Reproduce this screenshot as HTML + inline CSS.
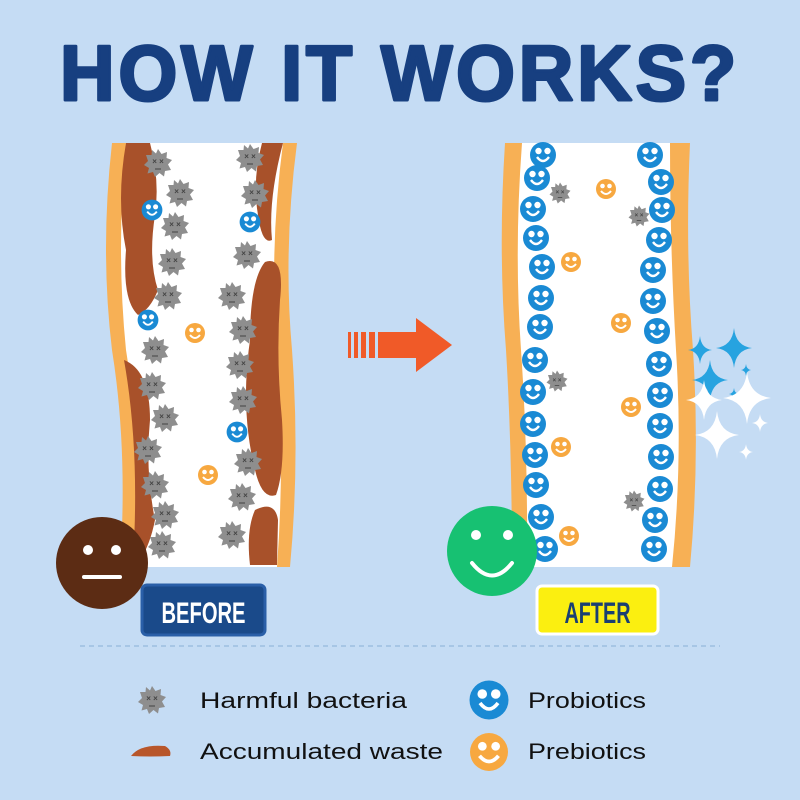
<!DOCTYPE html>
<html><head><meta charset="utf-8"><style>
html,body{margin:0;padding:0;background:#c5dcf4;width:800px;height:800px;overflow:hidden}
</style></head><body>
<svg width="800" height="800" viewBox="0 0 800 800" xmlns="http://www.w3.org/2000/svg">
<defs>
<g id="bac"><polygon points="0,-14 3.5,-9 9,-11 8.5,-5 14,-3 10,1.5 13,7 7,8 6,13.5 1.5,10 -3,14 -5,9 -10.5,10.5 -9,5 -14,2 -10,-2 -12,-8 -6.5,-8 -6,-13 -2,-9.5" fill="#8e8e8e"/><text x="0" y="1" font-family="Liberation Sans,sans-serif" font-size="8" font-weight="bold" fill="#444" text-anchor="middle">× ×</text><line x1="-3" y1="6" x2="3" y2="6" stroke="#555" stroke-width="1.3"/></g>
<g id="pro"><circle r="13" fill="#1a8ad4"/><circle cx="-4.5" cy="-4" r="3.2" fill="#fff"/><circle cx="4.5" cy="-4" r="3.2" fill="#fff"/><path d="M-6,2 Q0,10 6,2" stroke="#fff" stroke-width="2.4" fill="none"/></g>
<g id="pre"><circle r="10" fill="#f7a840"/><circle cx="-3.5" cy="-3" r="2.3" fill="#fff"/><circle cx="3.5" cy="-3" r="2.3" fill="#fff"/><path d="M-5,2 Q0,8 5,2" stroke="#fff" stroke-width="2" fill="none"/></g>
<g id="spk"><path d="M0,-1 Q0.1,-0.1 1,0 Q0.1,0.1 0,1 Q-0.1,0.1 -1,0 Q-0.1,-0.1 0,-1Z"/></g>
</defs>

<text x="400" y="100" font-family="Liberation Sans,sans-serif" font-weight="bold" font-size="78" fill="#173f80" stroke="#173f80" stroke-width="3" stroke-linejoin="round" text-anchor="middle" letter-spacing="4" textLength="680" lengthAdjust="spacingAndGlyphs">HOW IT WORKS?</text>

<!-- LEFT TUBE -->
<path d="M112,143 L297,143 Q283,250 292,350 Q300,460 290,567 L120,567 Q128,450 112,350 Q100,250 112,143Z" fill="#f7b055"/>
<path d="M126,143 L283,143 Q269,250 277,350 Q285,460 277,567 L133,567 Q142,450 126,350 Q116,250 126,143Z" fill="#fff"/>
<path d="M126,143 L150,143 Q160,180 155,215 Q148,260 158,290 Q150,310 138,315 Q122,300 126,250 Q116,200 126,143Z" fill="#a8512a"/>
<path d="M124,360 Q150,370 150,420 Q145,470 155,520 Q150,545 140,560 L133,562 Q140,450 124,360Z" fill="#a8512a"/>
<path d="M262,143 L283,143 Q268,200 272,240 Q262,245 258,215 Q252,180 262,143Z" fill="#a8512a"/>
<path d="M265,262 Q285,255 280,300 Q276,360 282,420 Q285,470 276,495 Q262,500 255,470 Q240,410 250,340 Q250,280 265,262Z" fill="#a8512a"/>
<path d="M255,510 Q275,500 278,520 L277,565 L250,565 Q246,530 255,510Z" fill="#a8512a"/>
<use href="#bac" x="158" y="163"/><use href="#bac" x="180" y="193"/><use href="#bac" x="175" y="226"/><use href="#bac" x="172" y="262"/><use href="#bac" x="168" y="296"/><use href="#bac" x="155" y="350"/><use href="#bac" x="152" y="386"/><use href="#bac" x="165" y="418"/><use href="#bac" x="148" y="450"/><use href="#bac" x="155" y="485"/><use href="#bac" x="165" y="515"/><use href="#bac" x="162" y="545"/>
<use href="#bac" x="250" y="158"/><use href="#bac" x="255" y="194"/><use href="#bac" x="247" y="255"/><use href="#bac" x="232" y="296"/><use href="#bac" x="243" y="330"/><use href="#bac" x="240" y="365"/><use href="#bac" x="243" y="400"/><use href="#bac" x="248" y="462"/><use href="#bac" x="242" y="497"/><use href="#bac" x="232" y="535"/>
<g transform="translate(152,210) scale(0.8)"><use href="#pro"/></g>
<g transform="translate(250,222) scale(0.8)"><use href="#pro"/></g>
<g transform="translate(148,320) scale(0.8)"><use href="#pro"/></g>
<g transform="translate(237,432) scale(0.8)"><use href="#pro"/></g>
<use href="#pre" x="195" y="333"/><use href="#pre" x="208" y="475"/>

<!-- brown face -->
<circle cx="102" cy="563" r="46" fill="#5c2c14"/>
<circle cx="88" cy="550" r="5" fill="#fff"/><circle cx="116" cy="550" r="5" fill="#fff"/>
<rect x="82" y="575" width="40" height="4" rx="2" fill="#fff"/>

<!-- BEFORE badge -->
<rect x="142" y="585" width="123" height="50" rx="5" fill="#1a4a8a" stroke="#2a5fa8" stroke-width="3"/>
<text x="203.5" y="623" font-family="Liberation Sans,sans-serif" font-weight="bold" font-size="30" fill="#fff" text-anchor="middle" textLength="84" lengthAdjust="spacingAndGlyphs">BEFORE</text>

<!-- ARROW -->
<rect x="348" y="332" width="3" height="26" fill="#f05a28"/><rect x="354" y="332" width="4" height="26" fill="#f05a28"/><rect x="361" y="332" width="5" height="26" fill="#f05a28"/><rect x="369" y="332" width="6" height="26" fill="#f05a28"/>
<polygon points="378,332 416,332 416,318 452,345 416,372 416,358 378,358" fill="#f05a28"/>

<!-- RIGHT TUBE -->
<path d="M505,143 L690,143 Q685,250 693,350 Q700,460 690,567 L512,567 Q512,450 506,350 Q498,250 505,143Z" fill="#f7b055"/>
<path d="M522,143 L670,143 Q670,250 676,350 Q683,460 672,567 L527,567 Q528,450 521,350 Q514,250 522,143Z" fill="#fff"/>
<use href="#pro" x="543" y="155"/><use href="#pro" x="537" y="178"/><use href="#pro" x="533" y="209"/><use href="#pro" x="536" y="238"/><use href="#pro" x="542" y="267"/><use href="#pro" x="541" y="298"/><use href="#pro" x="540" y="327"/><use href="#pro" x="535" y="360"/><use href="#pro" x="533" y="392"/><use href="#pro" x="533" y="424"/><use href="#pro" x="535" y="455"/><use href="#pro" x="536" y="485"/><use href="#pro" x="541" y="517"/><use href="#pro" x="545" y="549"/>
<use href="#pro" x="650" y="155"/><use href="#pro" x="661" y="182"/><use href="#pro" x="662" y="210"/><use href="#pro" x="659" y="240"/><use href="#pro" x="653" y="270"/><use href="#pro" x="653" y="301"/><use href="#pro" x="657" y="331"/><use href="#pro" x="659" y="364"/><use href="#pro" x="660" y="395"/><use href="#pro" x="660" y="426"/><use href="#pro" x="661" y="457"/><use href="#pro" x="660" y="489"/><use href="#pro" x="655" y="520"/><use href="#pro" x="654" y="549"/>
<use href="#pre" x="606" y="189"/><use href="#pre" x="571" y="262"/><use href="#pre" x="621" y="323"/><use href="#pre" x="631" y="407"/><use href="#pre" x="561" y="447"/><use href="#pre" x="569" y="536"/>
<g transform="translate(560,193) scale(0.75)"><use href="#bac"/></g>
<g transform="translate(639,216) scale(0.75)"><use href="#bac"/></g>
<g transform="translate(557,381) scale(0.75)"><use href="#bac"/></g>
<g transform="translate(634,501) scale(0.75)"><use href="#bac"/></g>

<!-- sparkles -->
<g fill="#27a3e0">
<g transform="translate(700,350) scale(12,14)"><use href="#spk"/></g>
<g transform="translate(734,348) scale(18,20)"><use href="#spk"/></g>
<g transform="translate(710,380) scale(18,20)"><use href="#spk"/></g>
<g transform="translate(746,370) scale(5,6)"><use href="#spk"/></g>
<g transform="translate(734,394) scale(5,6)"><use href="#spk"/></g>
</g>
<g fill="#fff">
<g transform="translate(704,400) scale(18,20)"><use href="#spk"/></g>
<g transform="translate(747,398) scale(24,26)"><use href="#spk"/></g>
<g transform="translate(717,435) scale(22,24)"><use href="#spk"/></g>
<g transform="translate(760,423) scale(8,9)"><use href="#spk"/></g>
<g transform="translate(746,452) scale(7,8)"><use href="#spk"/></g>
</g>

<!-- green face -->
<circle cx="492" cy="551" r="45" fill="#17c172"/>
<circle cx="476" cy="535" r="5" fill="#fff"/><circle cx="508" cy="535" r="5" fill="#fff"/>
<path d="M472,563 Q492,588 512,563" stroke="#fff" stroke-width="4" fill="none" stroke-linecap="round"/>

<!-- AFTER badge -->
<rect x="537" y="586" width="121" height="48" rx="5" fill="#fbef10" stroke="#fff" stroke-width="3"/>
<text x="597.5" y="623" font-family="Liberation Sans,sans-serif" font-weight="bold" font-size="30" fill="#1a3f72" text-anchor="middle" textLength="66" lengthAdjust="spacingAndGlyphs">AFTER</text>

<line x1="80" y1="646" x2="720" y2="646" stroke="#9dbfe0" stroke-width="1.5" stroke-dasharray="5,4"/>

<!-- legend -->
<use href="#bac" x="152" y="700"/>
<text x="200" y="708" font-family="Liberation Sans,sans-serif" font-size="22" fill="#111" textLength="207" lengthAdjust="spacingAndGlyphs">Harmful bacteria</text>
<path d="M131,756 Q140,744 165,746 Q172,750 170,756 Q150,757 131,756Z" fill="#b8562a"/>
<text x="200" y="759" font-family="Liberation Sans,sans-serif" font-size="22" fill="#111" textLength="243" lengthAdjust="spacingAndGlyphs">Accumulated waste</text>
<g transform="translate(489,700) scale(1.5)"><use href="#pro"/></g>
<text x="528" y="708" font-family="Liberation Sans,sans-serif" font-size="22" fill="#111" textLength="118" lengthAdjust="spacingAndGlyphs">Probiotics</text>
<g transform="translate(489,752) scale(1.9)"><use href="#pre"/></g>
<text x="528" y="759" font-family="Liberation Sans,sans-serif" font-size="22" fill="#111" textLength="118" lengthAdjust="spacingAndGlyphs">Prebiotics</text>
</svg>
</body></html>
